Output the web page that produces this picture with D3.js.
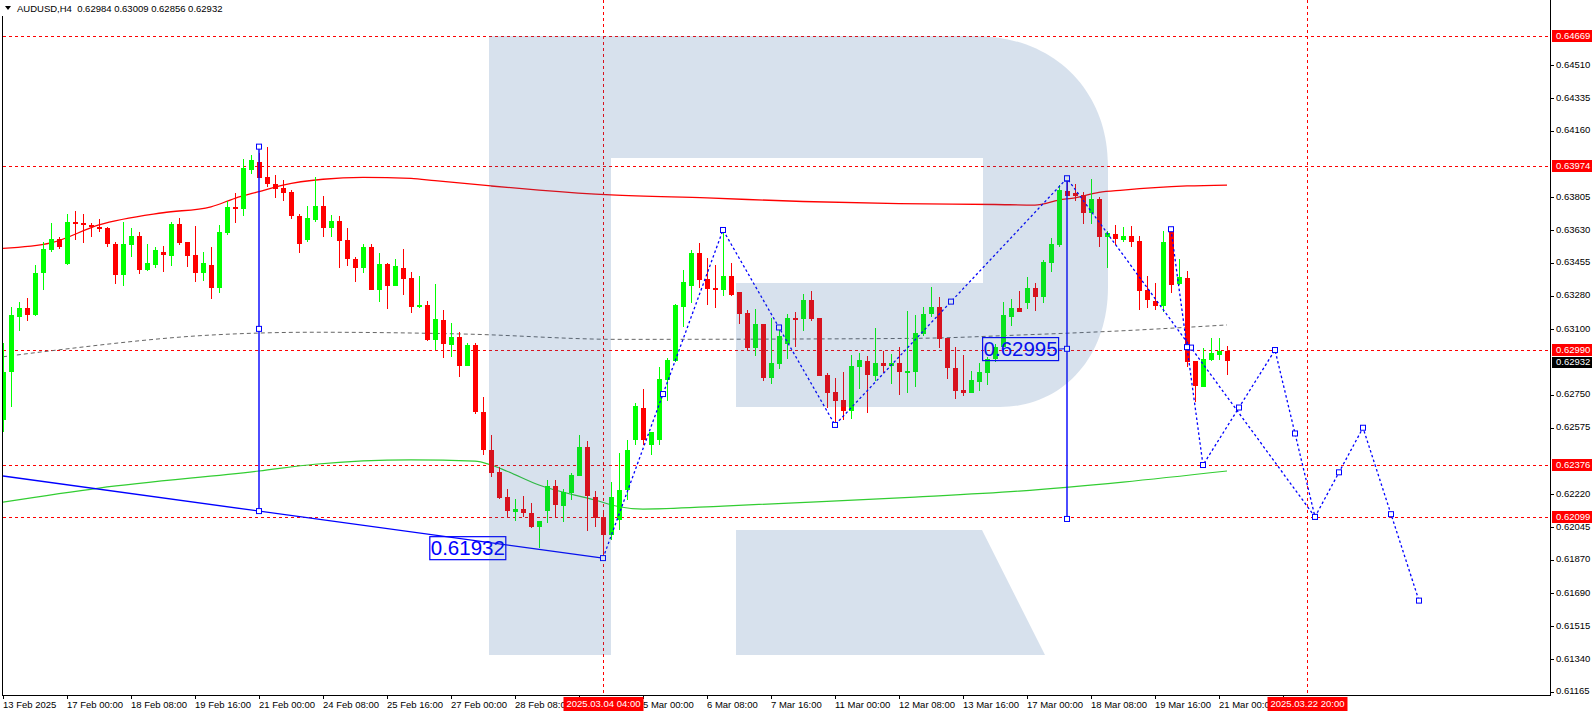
<!DOCTYPE html>
<html><head><meta charset="utf-8">
<script src="https://cdn.jsdelivr.net/npm/d3@7"></script>
<style>
body{margin:0;background:#fff;overflow:hidden}
svg{display:block}
text{font-family:"Liberation Sans",Arial,sans-serif}
</style>
</head><body>
<svg id="c" width="1596" height="716"></svg>
<script>
// ---------- DATA (AUDUSD H4, bar index 0 = 13 Feb 2025 16:00) ----------
const opens = [0.62616,0.62872,0.63166,0.63215,0.63177,0.63399,0.63524,0.63582,0.63450,0.63675,
0.63668,0.63658,0.63649,0.63641,0.63556,0.63392,0.63552,0.63599,0.63419,0.63446,
0.63513,0.63494,0.63663,0.63567,0.63497,0.63403,0.63444,0.63323,0.63616,0.63754,
0.63744,0.63953,0.63994,0.63914,0.63876,0.63855,0.63834,0.63706,0.63579,0.63686,
0.63759,0.63643,0.63679,0.63577,0.63476,0.63429,0.63538,0.63312,0.63449,0.63333,
0.63428,0.63374,0.63221,0.63228,0.63043,0.63150,0.63018,0.63059,0.62906,0.63017,
0.62659,0.62456,0.62339,0.62203,0.62126,0.62141,0.62121,0.62046,0.62132,0.62264,
0.62158,0.62225,0.62317,0.62474,0.62207,0.62096,0.62002,0.62082,0.62242,0.62509,
0.62680,0.62483,0.62509,0.62830,0.62931,0.63221,0.63333,0.63508,0.63367,0.63321,
0.63312,0.63385,0.63300,0.63188,0.63002,0.63129,0.62842,0.62917,0.63024,0.63161,
0.63154,0.63257,0.63161,0.62856,0.62766,0.62723,0.62666,0.62901,0.62931,0.62853,
0.62921,0.62906,0.62921,0.62874,0.62874,0.63075,0.63181,0.63221,0.63053,0.62892,
0.62776,0.62759,0.62819,0.62869,0.62940,0.63007,0.63168,0.63215,0.63239,0.63321,
0.63275,0.63456,0.63551,0.63839,0.63827,0.63818,0.63720,0.63796,0.63595,0.63609,
0.63577,0.63599,0.63572,0.63310,0.63252,0.63227,0.63631,0.63341,0.63376,0.62931,
0.62791,0.62937,0.62963,0.62984];
const highs = [0.63027,0.63220,0.63246,0.63268,0.63444,0.63566,0.63668,0.63591,0.63717,0.63732,
0.63717,0.63667,0.63688,0.63645,0.63568,0.63675,0.63640,0.63620,0.63556,0.63538,
0.63545,0.63674,0.63695,0.63567,0.63652,0.63513,0.63542,0.63658,0.63786,0.63830,
0.64010,0.64031,0.64041,0.64072,0.63925,0.63898,0.63844,0.63716,0.63759,0.63912,
0.63812,0.63711,0.63706,0.63641,0.63488,0.63556,0.63556,0.63506,0.63456,0.63476,
0.63529,0.63406,0.63385,0.63252,0.63342,0.63204,0.63134,0.63088,0.63029,0.63029,
0.62737,0.62536,0.62365,0.62246,0.62193,0.62210,0.62171,0.62078,0.62296,0.62296,
0.62246,0.62332,0.62536,0.62504,0.62237,0.62118,0.62287,0.62440,0.62509,0.62707,
0.62782,0.62552,0.62901,0.62947,0.63236,0.63417,0.63524,0.63560,0.63480,0.63444,
0.63631,0.63453,0.63300,0.63204,0.63209,0.63129,0.63159,0.63097,0.63182,0.63194,
0.63289,0.63305,0.63161,0.62865,0.62842,0.62873,0.62963,0.62975,0.62958,0.63108,
0.62986,0.62969,0.63004,0.63200,0.63177,0.63221,0.63328,0.63271,0.63053,0.63004,
0.62963,0.62880,0.62922,0.62954,0.63020,0.63248,0.63264,0.63307,0.63378,0.63349,
0.63471,0.63590,0.63871,0.63907,0.63876,0.63835,0.63902,0.63805,0.63627,0.63658,
0.63648,0.63654,0.63599,0.63385,0.63346,0.63627,0.63635,0.63476,0.63413,0.62931,
0.62999,0.63053,0.63054,0.63009];
const lows = [0.62552,0.62686,0.63093,0.63146,0.63174,0.63310,0.63514,0.63530,0.63444,0.63577,
0.63563,0.63592,0.63622,0.63538,0.63343,0.63333,0.63485,0.63397,0.63413,0.63426,
0.63408,0.63439,0.63551,0.63433,0.63355,0.63360,0.63264,0.63296,0.63606,0.63670,
0.63707,0.63931,0.63910,0.63862,0.63802,0.63786,0.63691,0.63510,0.63568,0.63672,
0.63595,0.63595,0.63429,0.63439,0.63355,0.63403,0.63312,0.63248,0.63211,0.63332,
0.63284,0.63189,0.63213,0.63040,0.62990,0.62949,0.62954,0.62844,0.62905,0.62647,
0.62429,0.62313,0.62193,0.62091,0.62078,0.62100,0.62039,0.61933,0.62068,0.62100,
0.62073,0.62189,0.62317,0.62025,0.62043,0.61879,0.61975,0.62029,0.62189,0.62483,
0.62483,0.62431,0.62483,0.62719,0.62928,0.63114,0.63242,0.63319,0.63230,0.63216,
0.63278,0.63278,0.63129,0.62986,0.62958,0.62826,0.62810,0.62890,0.62943,0.63005,
0.63093,0.63146,0.62853,0.62682,0.62590,0.62616,0.62620,0.62783,0.62652,0.62826,
0.62869,0.62808,0.62751,0.62763,0.62794,0.63065,0.63168,0.62999,0.62835,0.62727,
0.62744,0.62759,0.62773,0.62801,0.62927,0.63007,0.63118,0.63193,0.63207,0.63200,
0.63243,0.63405,0.63538,0.63814,0.63787,0.63661,0.63661,0.63538,0.63429,0.63551,
0.63568,0.63538,0.63204,0.63213,0.63204,0.63195,0.63293,0.63337,0.62898,0.62712,
0.62791,0.62931,0.62937,0.62856];
const closes = [0.62872,0.63177,0.63215,0.63177,0.63401,0.63529,0.63581,0.63540,0.63674,0.63665,
0.63659,0.63645,0.63638,0.63558,0.63392,0.63556,0.63599,0.63417,0.63455,0.63524,
0.63499,0.63663,0.63563,0.63494,0.63403,0.63455,0.63323,0.63620,0.63754,0.63743,
0.63962,0.64005,0.63910,0.63878,0.63851,0.63830,0.63706,0.63558,0.63695,0.63759,
0.63643,0.63679,0.63574,0.63474,0.63429,0.63538,0.63312,0.63449,0.63333,0.63439,
0.63371,0.63221,0.63228,0.63043,0.63154,0.63024,0.63059,0.62906,0.63017,0.62661,
0.62456,0.62335,0.62198,0.62132,0.62141,0.62121,0.62046,0.62078,0.62264,0.62162,
0.62230,0.62323,0.62474,0.62212,0.62091,0.62002,0.62207,0.62242,0.62456,0.62691,
0.62509,0.62552,0.62835,0.62937,0.63231,0.63353,0.63508,0.63364,0.63316,0.63312,
0.63385,0.63282,0.63182,0.63002,0.63129,0.62842,0.62921,0.63065,0.63161,0.63154,
0.63257,0.63156,0.62853,0.62762,0.62719,0.62666,0.62905,0.62937,0.62858,0.62921,
0.62906,0.62921,0.62874,0.62878,0.63081,0.63182,0.63221,0.63049,0.62894,0.62773,
0.62759,0.62830,0.62873,0.62940,0.63007,0.63177,0.63215,0.63193,0.63321,0.63275,
0.63462,0.63556,0.63844,0.63814,0.63812,0.63720,0.63796,0.63595,0.63613,0.63581,
0.63599,0.63568,0.63307,0.63257,0.63227,0.63568,0.63337,0.63378,0.62927,0.62798,
0.62942,0.62975,0.62985,0.62932];

// moving averages, read at sampled bars: [barIndex, price]
const maRed = [[0,0.63533],[6,0.63562],[12,0.63658],[20,0.63723],[26,0.63755],[29,0.63800],[32,0.63836],[35,0.63871],[40,0.63902],[45,0.63912],[51,0.63907],[54,0.63894],[61,0.63866],[67,0.63844],[76,0.63818],[88,0.63802],[100,0.63783],[112,0.63772],[124,0.63767],[129,0.63764],[132,0.63791],[134,0.63803],[137,0.63832],[140,0.63844],[144,0.63857],[148,0.63866],[153,0.63871]];
const maGreen = [[0,0.62178],[12,0.62253],[32,0.62344],[39,0.62380],[51,0.62403],[59,0.62397],[61,0.62376],[63,0.62343],[67,0.62269],[74,0.62189],[77,0.62153],[80,0.62141],[90,0.62157],[101,0.62178],[114,0.62205],[127,0.62237],[140,0.62285],[153,0.62344]];
const maGray = [[0,0.62954],[6,0.62986],[26,0.63070],[39,0.63085],[58,0.63075],[77,0.63047],[100,0.63049],[115,0.63053],[127,0.63070],[140,0.63093],[153,0.63124]];

// price levels
const redLevels = [0.64669,0.63974,0.62990,0.62376,0.62099];
const lastPrice = 0.62932;
const priceTicks = [0.64510,0.64335,0.64160,0.63805,0.63630,0.63455,0.63280,0.63100,0.62750,0.62575,0.62220,0.62045,0.61870,0.61690,0.61515,0.61340,0.61165];
const timeTickBars = [0,8,16,24,32,40,48,56,64,72,80,88,96,104,112,120,128,136,144,152,160];
const timeTickLabels = ["13 Feb 2025","17 Feb 00:00","18 Feb 08:00","19 Feb 16:00","21 Feb 00:00","24 Feb 08:00","25 Feb 16:00","27 Feb 00:00","28 Feb 08:00","","5 Mar 00:00","6 Mar 08:00","7 Mar 16:00","11 Mar 00:00","12 Mar 08:00","13 Mar 16:00","17 Mar 00:00","18 Mar 08:00","19 Mar 16:00","21 Mar 00:00",""];
const vLineBars = [75,163];
const vLineLabels = ["2025.03.04 04:00","2025.03.22 20:00"];

// annotations
const trendLine = [[0,0.62317],[75,0.61879]];
const measureLines = [[32,0.64076,0.62130],[133,0.63905,0.62088]];
const zigzagA = [[75,0.61879],[90,0.63631],[104,0.62590],[133,0.63907],[164,0.62099]];
const zigzagB = [[146,0.63635],[150,0.62376],[159,0.62990],[164,0.62099],[170,0.62575],[177,0.61652]];
const boxLabels = [[58.1,0.61932,"0.61932"],[127.2,0.62995,"0.62995"]];
const header = "AUDUSD,H4  0.62984 0.63009 0.62856 0.62932";

// ---------- LAYOUT ----------
const AX_R = 1550, AX_B = 695, PL = 3;
const x = d3.scaleLinear().domain([0, 1]).range([3, 11]);
const y = d3.scaleLinear().domain([0.61148, 0.64859]).range([695, 0]);
const svg = d3.select('#c');
svg.append('rect').attr('width',1596).attr('height',716).attr('fill','#fff');
svg.append('defs').append('clipPath').attr('id','plot')
  .append('rect').attr('x',PL).attr('y',0).attr('width',AX_R-PL).attr('height',AX_B);
const g = svg.append('g').attr('clip-path','url(#plot)');

// horizontal red levels
g.selectAll('line.lvl').data(redLevels).join('line')
  .attr('x1',PL).attr('x2',AX_R).attr('y1',d=>Math.round(y(d))+0.5).attr('y2',d=>Math.round(y(d))+0.5)
  .attr('stroke','#ff0000').attr('stroke-width',1).attr('stroke-dasharray','3,3');
// vertical red lines
g.selectAll('line.vl').data(vLineBars).join('line')
  .attr('x1',d=>Math.round(x(d))+0.5).attr('x2',d=>Math.round(x(d))+0.5).attr('y1',0).attr('y2',AX_B)
  .attr('stroke','#ff0000').attr('stroke-width',1).attr('stroke-dasharray','3,3');

// moving averages
const line = d3.line().x(d=>x(d[0])).y(d=>y(d[1])).curve(d3.curveMonotoneX);
g.append('path').attr('d',line(maGray)).attr('fill','none').attr('stroke','#666').attr('stroke-width',1).attr('stroke-dasharray','4,3');
g.append('path').attr('d',line(maGreen)).attr('fill','none').attr('stroke','#32cd32').attr('stroke-width',1.2);
g.append('path').attr('d',line(maRed)).attr('fill','none').attr('stroke','#ff0000').attr('stroke-width',1.3);

// candles
const bars = d3.range(opens.length).map(i=>({i,o:opens[i],h:highs[i],l:lows[i],c:closes[i]}));
const cg = g.append('g').attr('shape-rendering','crispEdges');
const col = d=> d.c>=d.o ? '#00ff00' : '#ff0000';
cg.selectAll('line.w').data(bars).join('line')
  .attr('x1',d=>Math.round(x(d.i))+0.5).attr('x2',d=>Math.round(x(d.i))+0.5)
  .attr('y1',d=>y(d.h)).attr('y2',d=>y(d.l)).attr('stroke',col).attr('stroke-width',1);
cg.selectAll('rect.b').data(bars).join('rect')
  .attr('x',d=>Math.round(x(d.i))-2).attr('width',5)
  .attr('y',d=>y(Math.max(d.o,d.c)))
  .attr('height',d=>Math.max(1.5,Math.abs(y(d.o)-y(d.c))))
  .attr('fill',col);

// blue annotations
const blue = '#0000ff';
const pl = d3.line().x(d=>x(d[0])).y(d=>y(d[1]));
g.append('path').attr('d',pl(trendLine)).attr('stroke',blue).attr('stroke-width',1.4).attr('fill','none');
const squares = [];
measureLines.forEach(m=>{
  g.append('line').attr('x1',x(m[0])).attr('x2',x(m[0])).attr('y1',y(m[1])).attr('y2',y(m[2]))
    .attr('stroke',blue).attr('stroke-width',1.4);
  squares.push([m[0],m[1]],[m[0],(m[1]+m[2])/2],[m[0],m[2]]);
});
[zigzagA,zigzagB].forEach(z=>{
  g.append('path').attr('d',pl(z)).attr('stroke',blue).attr('stroke-width',1.3).attr('fill','none').attr('stroke-dasharray','2.5,2.5');
  z.forEach((p,k)=>{
    squares.push(p);
    if(k>0) squares.push([(p[0]+z[k-1][0])/2,(p[1]+z[k-1][1])/2]);
  });
});
boxLabels.forEach(b=>{
  const cx = x(b[0]), cy = y(b[1]);
  g.append('rect').attr('x',cx-38).attr('y',cy-11.5).attr('width',76).attr('height',23)
    .attr('fill','none').attr('stroke',blue).attr('stroke-width',1.2);
  g.append('text').attr('x',cx).attr('y',cy+1).attr('text-anchor','middle').attr('dominant-baseline','middle')
    .attr('font-size',20.5).attr('fill',blue).text(b[2]);
});
// connector from second label to its measure line
g.append('line').attr('x1',x(boxLabels[1][0])+38).attr('x2',x(measureLines[1][0])-3)
  .attr('y1',y(boxLabels[1][1])).attr('y2',y((measureLines[1][1]+measureLines[1][2])/2))
  .attr('stroke',blue).attr('stroke-width',1);
g.selectAll('rect.sq').data(squares).join('rect')
  .attr('x',d=>x(d[0])-2.5).attr('y',d=>y(d[1])-2.5).attr('width',5).attr('height',5)
  .attr('fill','#fff').attr('stroke',blue).attr('stroke-width',1);

// watermark logo (overlay)
const logo = "M489,36 H975 C1055,36 1108,92 1108,165 V287 C1108,358 1062,407 1000,407 H736 V283 H983 V158 H611 V655 H489 Z M736,530 H982 L1045,655 H736 Z";
g.append('path').attr('d',logo).attr('fill','rgb(40,95,160)').attr('fill-opacity',0.19);

// ---------- AXES ----------
const ax = svg.append('g').attr('shape-rendering','crispEdges');
ax.append('line').attr('x1',AX_R+0.5).attr('x2',AX_R+0.5).attr('y1',0).attr('y2',AX_B+1).attr('stroke','#000');
ax.append('line').attr('x1',2).attr('x2',AX_R+1).attr('y1',AX_B+0.5).attr('y2',AX_B+0.5).attr('stroke','#000');
ax.append('line').attr('x1',2.5).attr('x2',2.5).attr('y1',16).attr('y2',AX_B+1).attr('stroke','#000');

// price ticks
ax.selectAll('line.pt').data(priceTicks).join('line')
  .attr('x1',AX_R).attr('x2',AX_R+4).attr('y1',d=>Math.round(y(d))+0.5).attr('y2',d=>Math.round(y(d))+0.5).attr('stroke','#000');
svg.selectAll('text.pt').data(priceTicks).join('text')
  .attr('x',AX_R+6).attr('y',d=>y(d)).attr('dominant-baseline','middle')
  .attr('font-size',9.5).attr('fill','#000').text(d=>d.toFixed(5));
// red level labels
redLevels.forEach(v=>{
  svg.append('rect').attr('x',AX_R+2).attr('y',Math.round(y(v))-6).attr('width',40).attr('height',12).attr('fill','#ff0000');
  svg.append('text').attr('x',AX_R+6).attr('y',y(v)+0.5).attr('dominant-baseline','middle')
    .attr('font-size',9.5).attr('fill','#fff').text(v.toFixed(5));
});
// last price label
svg.append('rect').attr('x',AX_R+2).attr('y',Math.round(y(lastPrice))-4).attr('width',40).attr('height',11).attr('fill','#000');
svg.append('text').attr('x',AX_R+6).attr('y',y(lastPrice)+2).attr('dominant-baseline','middle')
  .attr('font-size',9.5).attr('fill','#fff').text(lastPrice.toFixed(5));

// time ticks
ax.selectAll('line.tt').data(timeTickBars).join('line')
  .attr('x1',d=>Math.round(x(d))+0.5).attr('x2',d=>Math.round(x(d))+0.5).attr('y1',AX_B).attr('y2',AX_B+4).attr('stroke','#000');
svg.selectAll('text.tt').data(timeTickBars).join('text')
  .attr('x',d=>x(d)).attr('y',705).attr('dominant-baseline','middle')
  .attr('font-size',9.5).attr('fill','#000').text((d,k)=>timeTickLabels[k]);
vLineBars.forEach((b,k)=>{
  const cx = Math.round(x(b))+0.5;
  svg.append('rect').attr('x',cx-40).attr('y',697).attr('width',80).attr('height',14).attr('fill','#ff0000');
  svg.append('text').attr('x',cx).attr('y',704.5).attr('text-anchor','middle').attr('dominant-baseline','middle')
    .attr('font-size',9.5).attr('fill','#fff').text(vLineLabels[k]);
});

// header
svg.append('path').attr('d','M5,6 L11,6 L8,10 Z').attr('fill','#000');
svg.append('text').attr('x',17).attr('y',9).attr('dominant-baseline','middle')
  .attr('font-size',9.5).attr('fill','#000').attr('xml:space','preserve').style('white-space','pre').text(header);
</script>
</body></html>
